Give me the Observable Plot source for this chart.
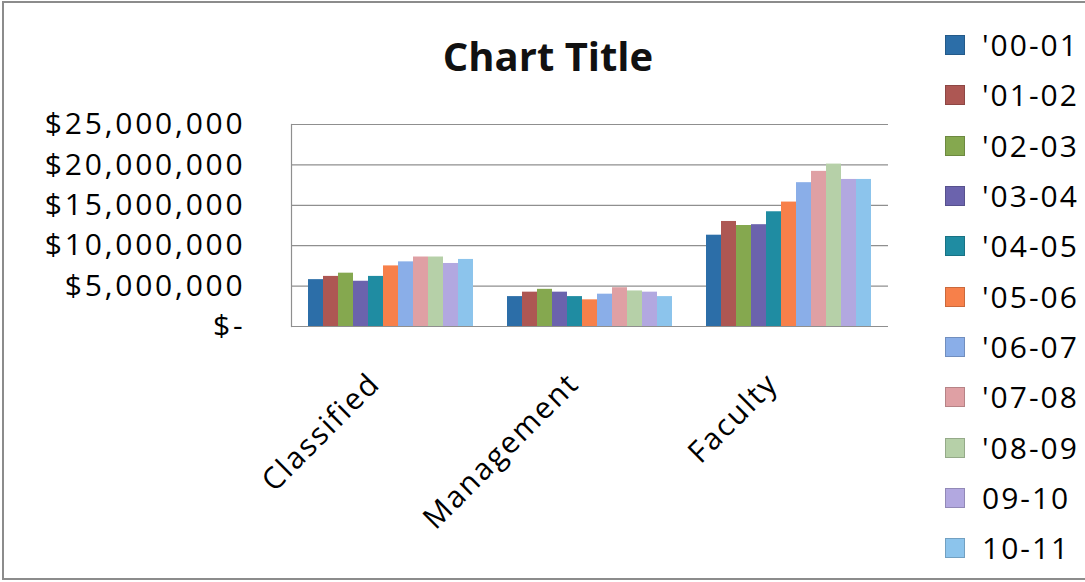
<!DOCTYPE html>
<html>
<head>
<meta charset="utf-8">
<script src="https://cdn.jsdelivr.net/npm/d3@7"></script>
<script src="https://cdn.jsdelivr.net/npm/@observablehq/plot@0.6"></script>
<style>
  html, body { margin: 0; padding: 0; background: #fff; }
  #wrap { position: relative; width: 1085px; height: 582px; overflow: hidden; font-family: "Open Sans", sans-serif; color: #000; }
  #chart { position: absolute; left: 0; top: 0; }
  #frame { position: absolute; left: 2px; top: 1px; width: 1100px; height: 579px; border: 2px solid #8c8c8c; border-right: none; box-sizing: border-box; pointer-events: none; }
  #title { position: absolute; left: 348px; width: 400px; top: 36px; line-height: 40px; text-align: center; font-weight: 700; font-size: 40px; color: #111; }
  #legend { position: absolute; left: 945px; top: 20px; }
  .row { display: flex; align-items: center; height: 50.3px; font-size: 30px; line-height: 30px; letter-spacing: 2px; color: #000; }
  .sw { width: 20px; height: 20px; margin-right: 17px; box-sizing: border-box; border: 1px solid rgba(0,0,0,0.18); }
  [aria-label="y-axis tick label"] text { letter-spacing: 2.8px; }
</style>
</head>
<body>
<div id="wrap">
  <div id="chart"></div>
  <div id="title">Chart Title</div>
  <div id="legend"></div>
  <div id="frame"></div>
</div>
<script>
const categories = ["Classified", "Management", "Faculty"];
const years = ["'00-01", "'01-02", "'02-03", "'03-04", "'04-05", "'05-06", "'06-07", "'07-08", "'08-09", "09-10", "10-11"];
const colors = ["#2c6ea8", "#ad5753", "#85a84f", "#6b63ad", "#1f8ca2", "#f7804a", "#8aaee8", "#dfa0a4", "#b6d0a8", "#b2a8e0", "#8cc4ec"];
const classified = [5800000, 6200000, 6600000, 5600000, 6200000, 7500000, 8000000, 8600000, 8600000, 7800000, 8300000];
const management = [3700000, 4250000, 4600000, 4250000, 3700000, 3300000, 4000000, 4800000, 4400000, 4250000, 3700000];
const faculty = [11300000, 13000000, 12500000, 12600000, 14200000, 15400000, 17800000, 19200000, 20100000, 18200000, 18200000];
const yTicks = [0, 5000000, 10000000, 15000000, 20000000, 25000000];

const series = {Classified: classified, Management: management, Faculty: faculty};
const data = categories.flatMap(c => years.map((y, i) => ({category: c, year: y, value: series[c][i]})));

const fmt = d => d === 0 ? "$-" : "$" + d3.format(",")(d);

const plot = Plot.plot({
  width: 1085,
  height: 582,
  marginLeft: 291,
  marginRight: 197,
  marginTop: 124,
  marginBottom: 256,
  style: {fontFamily: "Open Sans", fontSize: "30px", letterSpacing: "2px", color: "#000", background: "transparent", overflow: "visible"},
  fx: {domain: categories, padding: 0, label: null, axis: null},
  x: {domain: years, paddingInner: 0, paddingOuter: 0.72, axis: null},
  y: {domain: [0, 25000000], ticks: yTicks, tickFormat: fmt, tickSize: 0, tickPadding: 46, label: null},
  color: {domain: years, range: colors},
  marks: [
    Plot.gridY(yTicks, {stroke: "#8f8f8f", strokeOpacity: 1, strokeWidth: 1.2}),
    Plot.frame({anchor: "left", facetAnchor: "left", stroke: "#8f8f8f", strokeWidth: 1.2}),
    Plot.barY(data, {fx: "category", x: "year", y: "value", fill: "year"}),
    Plot.axisFx({anchor: "bottom", tickRotate: -45, tickSize: 0, tickPadding: 52, dx: -16, label: null, fill: "#000"})
  ]
});
document.getElementById("chart").appendChild(plot);

const legend = document.getElementById("legend");
years.forEach((y, i) => {
  const row = document.createElement("div");
  row.className = "row";
  const sw = document.createElement("span");
  sw.className = "sw";
  sw.style.background = colors[i];
  const t = document.createElement("span");
  t.textContent = y;
  row.appendChild(sw);
  row.appendChild(t);
  legend.appendChild(row);
});
</script>
</body>
</html>
